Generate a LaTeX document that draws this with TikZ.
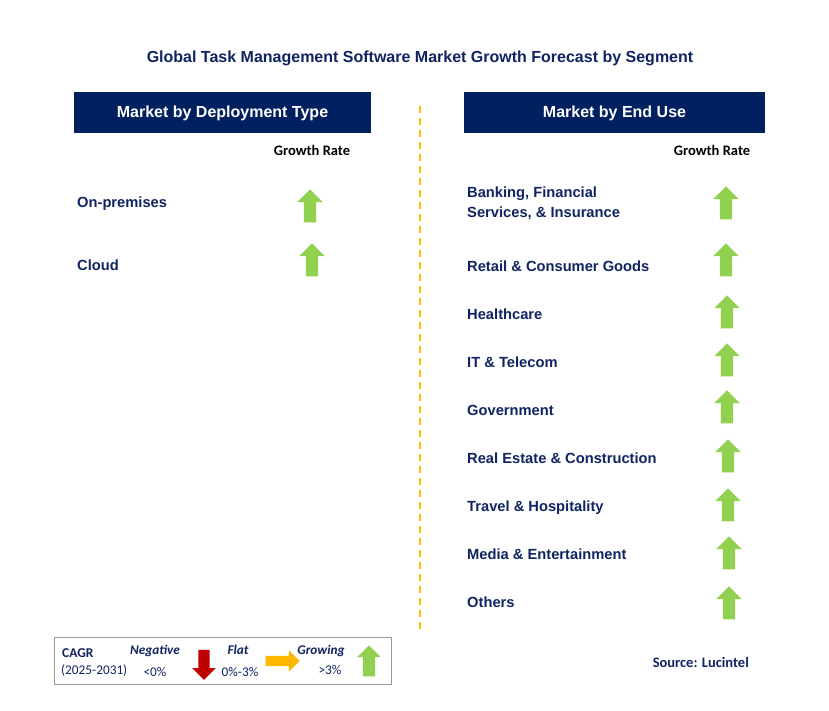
\documentclass[tikz,border=0pt]{standalone}
\usepackage{fontspec}
\setmainfont{Liberation Sans}
\newfontfamily\carlitofont{Carlito}
\usetikzlibrary{shapes.arrows}
\definecolor{navy}{RGB}{0,32,96}
\definecolor{txtnavy}{RGB}{16,36,98}
\definecolor{agreen}{RGB}{146,208,80}
\definecolor{ared}{RGB}{192,0,0}
\definecolor{aorange}{RGB}{255,184,0}
\definecolor{dashc}{RGB}{255,192,0}
\begin{document}
\begin{tikzpicture}[x=1pt,y=-1pt,
  lbl/.style={anchor=base west,inner sep=0,text=txtnavy,font=\fontsize{14.7}{17}\selectfont\bfseries},
  gr/.style={anchor=base,inner sep=0,font=\carlitofont\fontsize{14.5}{17}\selectfont\bfseries,text=black},
  arr/.style={shape=single arrow,inner xsep=0pt,inner ysep=6pt,minimum height=33pt,
     single arrow head extend=6.5pt,single arrow head indent=0pt,draw=none},
  uparr/.style={arr,fill=agreen,rotate=90},
  leg/.style={anchor=base,inner sep=0,text=txtnavy,font=\carlitofont\fontsize{13.3}{15}\selectfont},
  legb/.style={leg,font=\carlitofont\fontsize{13.3}{15}\selectfont\bfseries\itshape}
]
\useasboundingbox[fill=white] (0,0) rectangle (829,711);
% title
\node[anchor=base,inner sep=0,text=txtnavy,font=\fontsize{16}{19}\selectfont\bfseries] (title) at (420,63) {Global Task Management Software Market Growth Forecast by Segment};
% headers
\fill[navy] (74,92) rectangle (371,133);
\node[anchor=base,inner sep=0,text=white,font=\fontsize{16}{19}\selectfont\bfseries] (h1) at (222.5,118) {Market by Deployment Type};
\fill[navy] (464,92) rectangle (765,133);
\node[anchor=base,inner sep=0,text=white,font=\fontsize{16}{19}\selectfont\bfseries] (h2) at (614.5,118) {Market by End Use};
% divider
\coordinate (d1) at (420,106);
\coordinate (d2) at (420,630);
\draw[dashc,line width=2pt,dash pattern=on 7pt off 5pt] (d1) -- (d2);
% growth rate
\node[gr] (g1) at (312,156) {Growth Rate};
\node[gr] (g2) at (712,156) {Growth Rate};
% left items
\node[lbl] (l1) at (77,208) {On-premises};
\node[lbl] (l2) at (77,270) {Cloud};
\node[uparr] (a1) at (310,209) {};
\node[uparr] (a2) at (312,263) {};
% right items
\node[lbl] (r1a) at (467,198) {Banking, Financial};
\node[lbl] (r1b) at (467,218) {Services, \& Insurance};
\node[lbl] (r2) at (467,271) {Retail \& Consumer Goods};
\node[lbl] (r3) at (467,319) {Healthcare};
\node[lbl] (r4) at (467,367) {IT \& Telecom};
\node[lbl] (r5) at (467,415) {Government};
\node[lbl] (r6) at (467,463) {Real Estate \& Construction};
\node[lbl] (r7) at (467,511) {Travel \& Hospitality};
\node[lbl] (r8) at (467,559) {Media \& Entertainment};
\node[lbl] (r9) at (467,607) {Others};
\node[uparr] (b1) at (726,206) {};
\node[uparr] (b2) at (726,263) {};
\node[uparr] (b3) at (727,315) {};
\node[uparr] (b4) at (727,363) {};
\node[uparr] (b5) at (727,410) {};
\node[uparr] (b6) at (728,459) {};
\node[uparr] (b7) at (728,508) {};
\node[uparr] (b8) at (729,556) {};
\node[uparr] (b9) at (729,606) {};
% legend
\draw[gray!80,line width=0.8pt] (54,637) rectangle (391,684);
\node[leg,anchor=base west,font=\carlitofont\fontsize{13.5}{15}\selectfont\bfseries] (cagr) at (62,657) {CAGR};
\node[leg,anchor=base west] (yrs) at (61,674) {(2025-2031)};
\node[legb] (neg) at (155,654) {Negative};
\node[leg] (negv) at (155,676) {<0\%};
\node[arr,fill=ared,rotate=-90,inner ysep=5.5pt,minimum height=30pt,single arrow head extend=6pt] (ra) at (204,662) {};
\node[legb] (flat) at (238,654) {Flat};
\node[leg] (flatv) at (240,676) {0\%-3\%};
\node[arr,fill=aorange,inner ysep=5pt,minimum height=34pt,single arrow head extend=5.5pt] (oa) at (280,661) {};
\node[legb] (grow) at (321,654) {Growing};
\node[leg] (growv) at (330,674) {>3\%};
\node[uparr,inner ysep=6pt,minimum height=31pt,single arrow head extend=5.5pt] (ga) at (369,664) {};
% source
\node[anchor=base east,inner sep=0,text=txtnavy,font=\carlitofont\fontsize{14.5}{17}\selectfont\bfseries] (src) at (749,667) {Source: Lucintel};
\end{tikzpicture}
\end{document}
